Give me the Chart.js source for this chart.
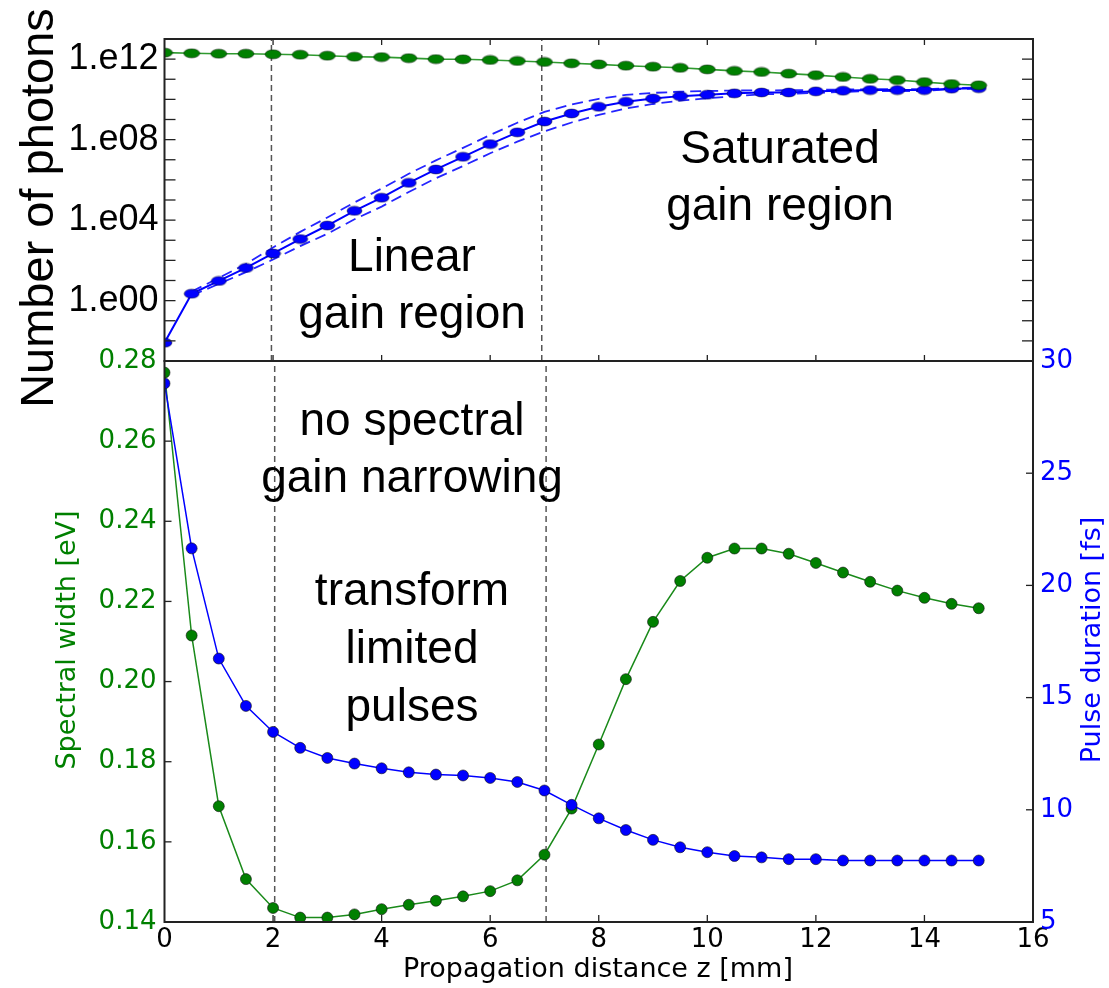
<!DOCTYPE html>
<html>
<head>
<meta charset="utf-8">
<title>Photons, spectral width and pulse duration vs propagation distance</title>
<script src="https://cdn.jsdelivr.net/npm/chart.js@4.4.1/dist/chart.umd.min.js"></script>
<style>
  html, body { margin: 0; padding: 0; background: #fff; }
  #wrap { position: relative; width: 1109px; height: 988px; }
  #wrap canvas { position: absolute; left: 0; top: 0; }
</style>
</head>
<body>
<div id="wrap">
  <canvas id="photons" width="1109" height="988"></canvas>
  <canvas id="pulse" width="1109" height="988"></canvas>
</div>
<script>
// sample positions along z [mm]
const zPositions = [0, 0.5, 1, 1.5, 2, 2.5, 3, 3.5, 4, 4.5, 5, 5.5, 6, 6.5, 7, 7.5,
                    8, 8.5, 9, 9.5, 10, 10.5, 11, 11.5, 12, 12.5, 13, 13.5, 14, 14.5, 15];

// top panel: number of photons
const photonsGreen = [2.1e12, 1.95e12, 1.86e12, 1.86e12, 1.74e12, 1.66e12, 1.48e12, 1.32e12, 1.26e12, 1.12e12,
                      1.0e12, 9.8e11, 9.1e11, 8.1e11, 7.2e11, 6.2e11, 5.5e11, 4.7e11, 4.2e11, 3.7e11,
                      3.1e11, 2.6e11, 2.3e11, 1.9e11, 1.6e11, 1.3e11, 1.05e11, 9.1e10, 7.2e10, 5.8e10, 5.0e10];
const photonsBlue = [8.1e-3, 2.2, 9.5, 42, 220, 1150, 5400, 2.9e4, 1.3e5, 7.1e5,
                     3.3e6, 1.4e7, 6.0e7, 2.3e8, 7.9e8, 2.0e9, 4.3e9, 7.6e9, 1.1e10, 1.45e10,
                     1.7e10, 2.0e10, 2.2e10, 2.2e10, 2.5e10, 2.7e10, 2.9e10, 2.9e10, 2.9e10, 3.4e10, 3.6e10];
const photonsBlueHigh = [null, 2.8, 13.5, 66, 440, 2600, 1.35e4, 7.6e4, 3.7e5, 2.0e6,
                         9.3e6, 3.9e7, 1.7e8, 6.9e8, 2.4e9, 5.6e9, 1.07e10, 1.66e10, 2.1e10, 2.4e10,
                         2.6e10, 2.75e10, 2.8e10, 2.85e10, 2.95e10, 3.1e10, 3.2e10, 3.2e10, 3.2e10, 3.6e10, 3.9e10];
const photonsBlueLow = [null, 1.8, 6.8, 26, 110, 510, 2100, 1.1e4, 4.7e4, 2.5e5,
                        1.2e6, 4.9e6, 2.1e7, 7.9e7, 2.6e8, 7.1e8, 1.7e9, 3.5e9, 5.9e9, 8.7e9,
                        1.12e10, 1.45e10, 1.8e10, 1.86e10, 2.1e10, 2.35e10, 2.6e10, 2.6e10, 2.6e10, 3.2e10, 3.4e10];

// bottom panel: spectral width [eV] (left) and pulse duration [fs] (right)
const spectralWidth = [0.2771, 0.2115, 0.1689, 0.1507, 0.1435, 0.1411, 0.1411, 0.1419, 0.1432, 0.1443,
                       0.1453, 0.1464, 0.1477, 0.1504, 0.1568, 0.1683, 0.1843, 0.2006, 0.2149, 0.2251,
                       0.2309, 0.2332, 0.2332, 0.2319, 0.2296, 0.2272, 0.2249, 0.2227, 0.2209, 0.2194, 0.2183];
const pulseDuration = [29.0, 21.65, 16.74, 14.63, 13.47, 12.76, 12.31, 12.06, 11.85, 11.67,
                       11.57, 11.53, 11.42, 11.24, 10.86, 10.22, 9.62, 9.10, 8.66, 8.33,
                       8.11, 7.94, 7.88, 7.80, 7.80, 7.74, 7.74, 7.74, 7.74, 7.74, 7.74];

// region boundaries (z [mm])
const boundariesTop = [1.97, 6.95];
const boundariesBottom = [2.03, 7.03];

// tick values and labels
const zTicks = [0, 2, 4, 6, 8, 10, 12, 14, 16];
const photonTicks = [1, 1e4, 1e8, 1e12];
const photonTickLabels = ['1.e00', '1.e04', '1.e08', '1.e12'];
const widthTicks = [0.14, 0.16, 0.18, 0.20, 0.22, 0.24, 0.26, 0.28];
const pulseTicks = [5, 10, 15, 20, 25, 30];

// frame geometry (px)
const W = 1109, H = 988;
const AREA = { left: 164.5, right: 1033, top: 39, split: 361, bottom: 922 };

const SANS = '"Liberation Sans", Arial, Helvetica, sans-serif';
const DEJAVU = '"DejaVu Sans", sans-serif';
const GREEN = '#008000', BLUE = '#0000ff';

const regionNotes = [
  { text: 'Linear', x: 412, y: 271 },
  { text: 'gain region', x: 412, y: 328 },
  { text: 'Saturated', x: 780, y: 163 },
  { text: 'gain region', x: 780, y: 220 },
  { text: 'no spectral', x: 412, y: 435 },
  { text: 'gain narrowing', x: 412, y: 492 },
  { text: 'transform', x: 412, y: 605 },
  { text: 'limited', x: 412, y: 663 },
  { text: 'pulses', x: 412, y: 721 }
];

function pts(ys) {
  return zPositions.map((x, i) => ({ x, y: ys[i] })).filter(p => p.y !== null);
}
function vline(x, lo, hi) {
  return [{ x, y: lo }, { x, y: hi }];
}

// stretched oval markers used in the top panel
function ovalMarker(fill, w, h) {
  const c = document.createElement('canvas');
  c.width = w + 2; c.height = h + 2;
  const g = c.getContext('2d');
  g.beginPath();
  g.ellipse(c.width / 2, c.height / 2, w / 2, h / 2, 0, 0, Math.PI * 2);
  g.fillStyle = fill; g.fill();
  g.lineWidth = 0.8; g.strokeStyle = 'rgba(0,0,0,0.55)'; g.stroke();
  return c;
}
const greenOval = ovalMarker(GREEN, 16, 9);
const blueOval = ovalMarker(BLUE, 15, 9);

function seg(ctx, x1, y1, x2, y2) {
  ctx.beginPath(); ctx.moveTo(x1, y1); ctx.lineTo(x2, y2); ctx.stroke();
}
function vtext(ctx, text, x, y, font, color) {
  ctx.save();
  ctx.translate(x, y); ctx.rotate(-Math.PI / 2);
  ctx.font = font; ctx.fillStyle = color;
  ctx.textAlign = 'center'; ctx.textBaseline = 'middle';
  ctx.fillText(text, 0, 0);
  ctx.restore();
}

const dashedBoundary = { borderColor: '#555', borderWidth: 1.5, borderDash: [6, 4], pointRadius: 0, order: 5 };

// ---- top panel: photons (log scale)
const topFrame = {
  id: 'topFrame',
  afterDraw(chart) {
    const { ctx, chartArea: a, scales: { x, y } } = chart;
    ctx.save();
    ctx.strokeStyle = '#222'; ctx.lineWidth = 1.3;
    for (let e = -2; e <= 12; e++) {
      const py = y.getPixelForValue(Math.pow(10, e));
      seg(ctx, a.left, py, a.left + 11, py);
      seg(ctx, a.right, py, a.right - 11, py);
    }
    zTicks.slice(1, -1).forEach(v => {
      const px = x.getPixelForValue(v);
      seg(ctx, px, a.top, px, a.top + 6);
      seg(ctx, px, a.bottom, px, a.bottom - 6);
    });
    ctx.lineWidth = 2;
    ctx.strokeRect(a.left, a.top, a.right - a.left, a.bottom - a.top);
    vtext(ctx, 'Number of photons', 40, 208, '47px ' + SANS, '#000');
    ctx.restore();
  }
};

new Chart(document.getElementById('photons'), {
  type: 'line',
  data: {
    datasets: [
      { data: pts(photonsGreen), borderColor: '#2f9a2f', borderWidth: 1.6, pointStyle: greenOval, pointRadius: 5, order: 0 },
      { data: pts(photonsBlue), borderColor: BLUE, borderWidth: 2, pointStyle: blueOval, pointRadius: 5, order: 1 },
      { data: pts(photonsBlueHigh), borderColor: '#2424ff', borderWidth: 1.8, borderDash: [11, 6], pointRadius: 0, order: 2 },
      { data: pts(photonsBlueLow), borderColor: '#2424ff', borderWidth: 1.8, borderDash: [11, 6], pointRadius: 0, order: 3 },
      Object.assign({ data: vline(boundariesTop[0], 1e-3, 1e13) }, dashedBoundary),
      Object.assign({ data: vline(boundariesTop[1], 1e-3, 1e13) }, dashedBoundary)
    ]
  },
  options: {
    responsive: false,
    animation: false,
    events: [],
    layout: { padding: { left: 0, right: W - AREA.right, top: AREA.top, bottom: H - AREA.split } },
    plugins: { legend: { display: false }, tooltip: { enabled: false } },
    elements: { line: { tension: 0 } },
    scales: {
      x: { type: 'linear', min: 0, max: 16, display: false },
      y: {
        type: 'logarithmic', min: 1e-3, max: 1e13, position: 'left',
        grid: { display: false, drawTicks: false },
        border: { display: false },
        afterFit(s) { s.width = AREA.left; },
        afterBuildTicks(s) { s.ticks = photonTicks.map(v => ({ value: v })); },
        ticks: {
          autoSkip: false, padding: 6, color: '#000',
          font: { family: SANS, size: 36 },
          callback: (v, i) => photonTickLabels[i]
        }
      }
    }
  },
  plugins: [topFrame]
});

// ---- bottom panel: spectral width and pulse duration
const bottomFrame = {
  id: 'bottomFrame',
  afterDraw(chart) {
    const { ctx, chartArea: a, scales: { x, y, y2 } } = chart;
    ctx.save();
    ctx.strokeStyle = '#222'; ctx.lineWidth = 1.3;
    widthTicks.slice(1, -1).forEach(v => {
      const py = y.getPixelForValue(v);
      seg(ctx, a.left, py, a.left + 7, py);
    });
    pulseTicks.slice(1, -1).forEach(v => {
      const py = y2.getPixelForValue(v);
      seg(ctx, a.right, py, a.right - 7, py);
    });
    zTicks.slice(1, -1).forEach(v => {
      const px = x.getPixelForValue(v);
      seg(ctx, px, a.bottom, px, a.bottom - 7);
    });
    ctx.lineWidth = 2;
    ctx.strokeRect(a.left, a.top, a.right - a.left, a.bottom - a.top);

    vtext(ctx, 'Spectral width [eV]', 68, 640, '27px ' + DEJAVU, GREEN);
    vtext(ctx, 'Pulse duration [fs]', 1093, 640, '27px ' + DEJAVU, BLUE);
    ctx.font = '27px ' + DEJAVU; ctx.fillStyle = '#000';
    ctx.textAlign = 'center'; ctx.textBaseline = 'middle';
    ctx.fillText('Propagation distance z [mm]', 598, 970);

    ctx.font = '46px ' + SANS; ctx.fillStyle = '#000';
    ctx.textAlign = 'center'; ctx.textBaseline = 'alphabetic';
    regionNotes.forEach(n => ctx.fillText(n.text, n.x, n.y));
    ctx.restore();
  }
};

new Chart(document.getElementById('pulse'), {
  type: 'line',
  data: {
    datasets: [
      { data: pts(pulseDuration), yAxisID: 'y2', borderColor: BLUE, borderWidth: 1.5,
        pointRadius: 5.5, pointBackgroundColor: BLUE, pointBorderColor: '#111', pointBorderWidth: 0.6, order: 0 },
      { data: pts(spectralWidth), yAxisID: 'y', borderColor: '#1a8a1a', borderWidth: 1.5,
        pointRadius: 5.5, pointBackgroundColor: GREEN, pointBorderColor: '#111', pointBorderWidth: 0.6, order: 1 },
      Object.assign({ data: vline(boundariesBottom[0], 0.14, 0.28), yAxisID: 'y' }, dashedBoundary),
      Object.assign({ data: vline(boundariesBottom[1], 0.14, 0.28), yAxisID: 'y' }, dashedBoundary)
    ]
  },
  options: {
    responsive: false,
    animation: false,
    events: [],
    layout: { padding: { left: 0, right: 0, top: AREA.split, bottom: 0 } },
    plugins: { legend: { display: false }, tooltip: { enabled: false } },
    elements: { line: { tension: 0 } },
    scales: {
      x: {
        type: 'linear', min: 0, max: 16, position: 'bottom',
        grid: { display: false, drawTicks: false },
        border: { display: false },
        afterFit(s) { s.height = H - AREA.bottom; },
        afterBuildTicks(s) { s.ticks = zTicks.map(v => ({ value: v })); },
        ticks: { autoSkip: false, padding: 3, color: '#000', font: { family: DEJAVU, size: 26 } }
      },
      y: {
        type: 'linear', min: 0.14, max: 0.28, position: 'left',
        grid: { display: false, drawTicks: false },
        border: { display: false },
        afterFit(s) { s.width = AREA.left; },
        afterBuildTicks(s) { s.ticks = widthTicks.map(v => ({ value: v })); },
        ticks: { autoSkip: false, padding: 8, color: GREEN, font: { family: DEJAVU, size: 26 },
                 callback: v => v.toFixed(2) }
      },
      y2: {
        type: 'linear', min: 5, max: 30, position: 'right',
        grid: { display: false, drawTicks: false },
        border: { display: false },
        afterFit(s) { s.width = W - AREA.right; },
        afterBuildTicks(s) { s.ticks = pulseTicks.map(v => ({ value: v })); },
        ticks: { autoSkip: false, padding: 7, color: BLUE, font: { family: DEJAVU, size: 26 } }
      }
    }
  },
  plugins: [bottomFrame]
});
</script>
</body>
</html>
